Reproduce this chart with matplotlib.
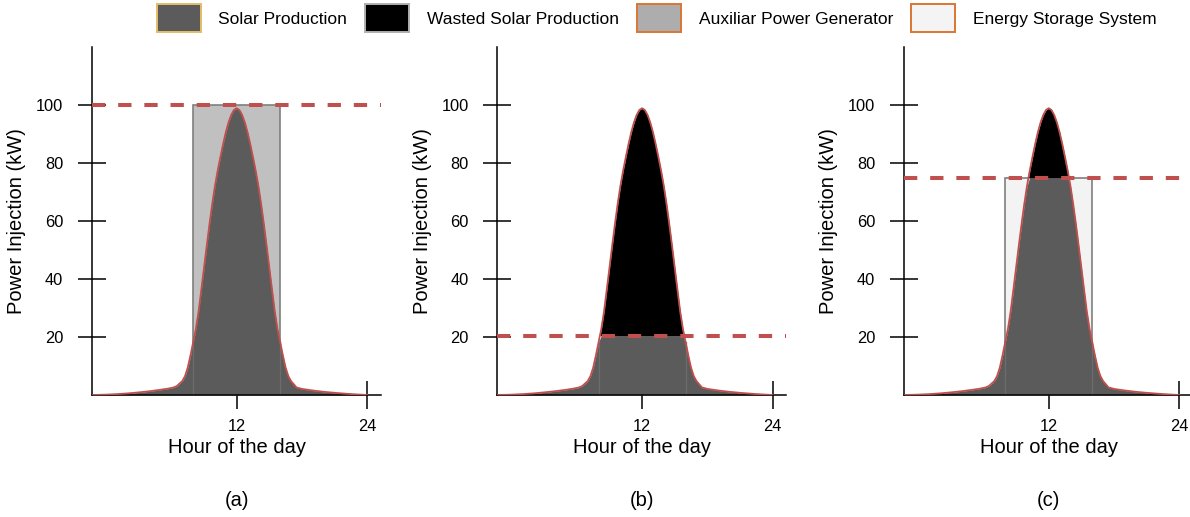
import numpy as np
import matplotlib
matplotlib.use('Agg')
import matplotlib.pyplot as plt
from matplotlib.patches import Patch

plt.rcParams['font.family'] = ['Liberation Sans', 'DejaVu Sans']

# solar production profile (hour, kW)
hours = [-1.3, 0, 1, 2, 3, 4, 5, 5.7, 6.2, 6.5, 7.0, 7.25, 7.5, 7.75,
         8.0, 8.25, 8.5, 8.75, 9.0, 9.25, 9.5, 9.75, 10.0, 10.25, 10.5,
         10.75, 11.0, 11.25, 11.5, 11.75, 12.0, 12.25, 12.5, 12.75, 13.0,
         13.25, 13.5, 13.75, 14.0, 14.25, 14.5, 14.75, 15.0, 15.25, 15.5,
         15.75, 16.0, 16.25, 16.5, 16.75, 17.0, 17.5, 18, 19, 20, 21, 22,
         23, 24]
solar = [0.0, 0.12, 0.3, 0.55, 0.9, 1.3, 1.8, 2.2, 2.6, 3.1, 4.8, 6.5, 9.4,
         13.6, 18.2, 22.8, 28.8, 36.3, 43.9, 51.5, 58.9, 65.8, 72.0, 77.3,
         82.0, 86.5, 90.6, 94.0, 96.6, 98.3, 98.9, 98.3, 96.6, 94.0, 90.6,
         86.5, 82.0, 77.3, 72.0, 65.8, 58.9, 51.5, 43.9, 36.3, 28.8, 22.8,
         18.2, 13.6, 9.4, 6.5, 4.8, 2.6, 2.1, 1.55, 1.1, 0.75, 0.45, 0.2,
         0.0]

# injection limit per case, and the box (start hour, end hour) drawn behind
limits = [100, 20.5, 75]
box_hours = [8, 16]
box_colors = ['#c0c0c0', None, '#f3f3f3']
panel_names = ['(a)', '(b)', '(c)']

legend_names = ['Solar Production', 'Wasted Solar Production',
                'Auxiliar Power Generator', 'Energy Storage System']
legend_faces = ['#5b5b5b', '#000000', '#adadad', '#f4f4f4']
legend_edges = ['#e3bd6a', '#b0b0b0', '#dc7633', '#dc7633']

red = '#c0504d'

x = np.array(hours)
y = np.array(solar)

fig = plt.figure(figsize=(11.9, 5.17), dpi=100)
lefts = [0.0773, 0.418, 0.7597]

for i in range(3):
    ax = fig.add_axes([lefts[i], 0.236, 0.2429, 0.673])
    lim = limits[i]

    if box_colors[i] is not None:
        ax.bar((box_hours[0] + box_hours[1]) / 2, lim,
               width=box_hours[1] - box_hours[0], color=box_colors[i],
               edgecolor='#7f7f7f', linewidth=1.2, zorder=1)

    ax.fill_between(x, 0, np.minimum(y, lim), color='#5b5b5b',
                    linewidth=0, zorder=2)
    ax.fill_between(x, lim, y, where=y > lim, interpolate=True,
                    color='black', linewidth=0, zorder=2)

    # faint box edges showing through the production area
    for h in box_hours:
        top = min(np.interp(h, x, y), lim)
        ax.plot([h, h], [0, top], color='#6c6c6c', lw=0.9, zorder=2.2)

    ax.plot(x, y, color=red, lw=1.3, zorder=3)
    ax.axhline(lim, color=red, lw=2.9, linestyle=(0, (3.3, 3.2)), zorder=4)

    ax.set_xlim(-1.3, 25.27)
    ax.set_ylim(0, 120)
    ax.set_xticks([12, 24])
    ax.set_yticks([20, 40, 60, 80, 100])
    for s in ['top', 'right']:
        ax.spines[s].set_visible(False)
    for s in ['left', 'bottom']:
        ax.spines[s].set_linewidth(1.1)
    ax.tick_params(direction='inout', length=20, width=1.1, labelsize=11.8)
    ax.tick_params(axis='y', pad=10.8)
    ax.tick_params(axis='x', pad=7.0)

    ax.set_xlabel('Hour of the day', fontsize=14.5, va='center')
    ax.xaxis.set_label_coords(0.5, -0.152)
    ax.set_ylabel('Power Injection (kW)', fontsize=14.5, va='center')
    ax.yaxis.set_label_coords(-0.26, 0.5)
    ax.text(0.5, -0.302, panel_names[i], transform=ax.transAxes,
            ha='center', va='center', fontsize=14.5)

handles = [Patch(facecolor=f, edgecolor=e, linewidth=1.4)
           for f, e in zip(legend_faces, legend_edges)]
fig.legend(handles, legend_names, loc='center', bbox_to_anchor=(0.5517, 0.965),
           ncol=4, frameon=False, fontsize=12.5, handlelength=2.53,
           handleheight=2.1, handletextpad=1.0, columnspacing=1.07)

fig.savefig('out.png', dpi=100)
